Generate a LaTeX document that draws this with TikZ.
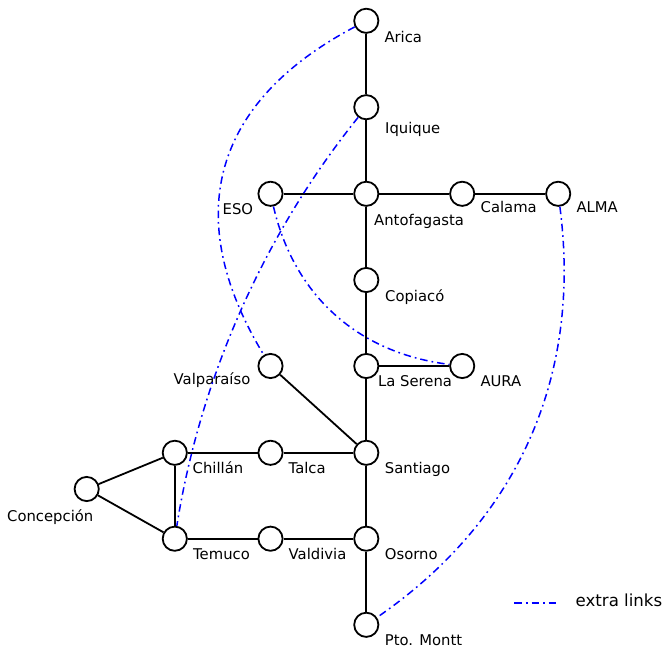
\documentclass[tikz,border=0pt]{standalone}
\usepackage{fontspec}
\setmainfont{DejaVu Sans}
\usetikzlibrary{calc}
\begin{document}
\begin{tikzpicture}[x=1pt,y=-1pt,
  stn/.style={circle,draw=black,fill=white,line width=1.8pt,minimum size=24.2pt,inner sep=0pt},
  lbl/.style={anchor=base west,inner sep=0pt,font=\fontsize{14.8}{17}\selectfont},
  track/.style={line width=1.8pt,black},
  extra/.style={line width=1.5pt,blue,dash pattern=on 7.5pt off 4pt on 1.7pt off 4pt}]
\useasboundingbox (0,0) rectangle (664,648);
% stations
\node[stn] (arica) at (366.3,20.8) {};
\node[stn] (iquique) at (366.3,107.2) {};
\node[stn] (antofagasta) at (366.3,193.8) {};
\node[stn] (eso) at (270.5,193.8) {};
\node[stn] (calama) at (462.2,193.8) {};
\node[stn] (alma) at (558.2,193.8) {};
\node[stn] (copiaco) at (366.3,280) {};
\node[stn] (laserena) at (366.3,366) {};
\node[stn] (aura) at (462.2,366) {};
\node[stn] (valparaiso) at (270.5,366) {};
\node[stn] (santiago) at (366.3,452.8) {};
\node[stn] (talca) at (270.5,452.8) {};
\node[stn] (chillan) at (174.8,452.8) {};
\node[stn] (concepcion) at (86.7,489) {};
\node[stn] (temuco) at (174.8,538.7) {};
\node[stn] (valdivia) at (270.5,538.7) {};
\node[stn] (osorno) at (366.3,538.7) {};
\node[stn] (ptomontt) at (366.3,624.8) {};
% labels
\node[lbl] (l-arica) at (384.3,42.3) {Arica};
\node[lbl] (l-iquique) at (385,133.3) {Iquique};
\node[lbl] (l-eso) at (222.5,214.3) {ESO};
\node[lbl] (l-antofagasta) at (374,225) {Antofagasta};
\node[lbl] (l-calama) at (480.5,212.3) {Calama};
\node[lbl] (l-alma) at (576.3,212.3) {ALMA};
\node[lbl] (l-copiaco) at (385,301) {Copiacó};
\node[lbl] (l-valparaiso) at (173.5,384.3) {Valparaíso};
\node[lbl] (l-laserena) at (378,386.7) {La Serena};
\node[lbl] (l-aura) at (480.3,386.7) {AURA};
\node[lbl] (l-chillan) at (192.5,473.3) {Chillán};
\node[lbl] (l-talca) at (288.5,473.3) {Talca};
\node[lbl] (l-santiago) at (384.7,473.3) {Santiago};
\node[lbl] (l-concepcion) at (7,521) {Concepción};
\node[lbl] (l-temuco) at (193,559.3) {Temuco};
\node[lbl] (l-valdivia) at (288.5,559.3) {Valdivia};
\node[lbl] (l-osorno) at (384.7,559.3) {Osorno};
\node[lbl] (l-ptomontt) at (384.7,645) {Pto. Montt};
% main tracks
\draw[track] (arica) -- (iquique);
\draw[track] (iquique) -- (antofagasta);
\draw[track] (eso) -- (antofagasta);
\draw[track] (antofagasta) -- (calama);
\draw[track] (calama) -- (alma);
\draw[track] (antofagasta) -- (copiaco);
\draw[track] (copiaco) -- (laserena);
\draw[track] (laserena) -- (aura);
\draw[track] (laserena) -- (santiago);
\draw[track] (valparaiso) -- (santiago);
\draw[track] (santiago) -- (talca);
\draw[track] (talca) -- (chillan);
\draw[track] (chillan) -- (concepcion);
\draw[track] (chillan) -- (temuco);
\draw[track] (concepcion) -- (temuco);
\draw[track] (temuco) -- (valdivia);
\draw[track] (valdivia) -- (osorno);
\draw[track] (santiago) -- (osorno);
\draw[track] (osorno) -- (ptomontt);
% extra links (quadratic curves written as cubics)
\coordinate (c-av) at (135.2,142.7);
\draw[extra] (arica) .. controls ($(arica.center)!0.6667!(c-av)$) and ($(valparaiso.center)!0.6667!(c-av)$) .. (valparaiso);
\coordinate (c-it) at (213.0,297.6);
\draw[extra] (iquique) .. controls ($(iquique.center)!0.6667!(c-it)$) and ($(temuco.center)!0.6667!(c-it)$) .. (temuco);
\coordinate (c-ea) at (306,346.7);
\draw[extra] (eso) .. controls ($(eso.center)!0.6667!(c-ea)$) and ($(aura.center)!0.6667!(c-ea)$) .. (aura);
\coordinate (c-ap) at (593.9,467.9);
\draw[extra] (alma) .. controls ($(alma.center)!0.6667!(c-ap)$) and ($(ptomontt.center)!0.6667!(c-ap)$) .. (ptomontt);
% legend
\coordinate (leg-a) at (514.3,603);
\coordinate (leg-b) at (556.7,603);
\draw[extra] (leg-a) -- (leg-b);
\node[anchor=base west,inner sep=0pt,font=\fontsize{16.6}{19}\selectfont] (legtext) at (575.5,606) {extra links};
\end{tikzpicture}
\end{document}
